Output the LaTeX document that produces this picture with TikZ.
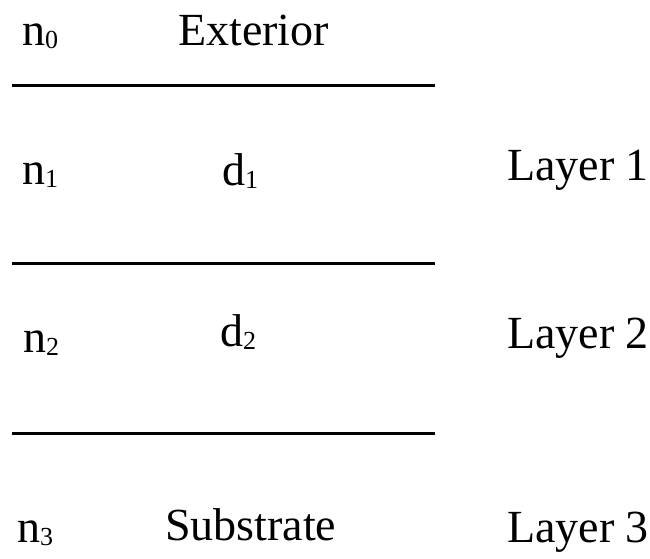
\documentclass[tikz,border=0pt]{standalone}
\usepackage{fontspec}
\setmainfont{Liberation Serif}
\usetikzlibrary{positioning}
\newcommand\lowsub[1]{\raisebox{-3pt}{\fontsize{26}{26}\selectfont #1}}

\begin{document}
\begin{tikzpicture}[x=1pt, y=-1pt,
  lbl/.style={anchor=base west, inner sep=0pt, font=\fontsize{46}{50}\selectfont},
  iface/.style={line width=3pt}]
\useasboundingbox (0,0) rectangle (650,558);
% refractive indices
\node[lbl] (n0) at (22,45) {n\lowsub{0}};
\node[lbl] (n1) at (22,184) {n\lowsub{1}};
\node[lbl] (n2) at (23,352) {n\lowsub{2}};
\node[lbl] (n3) at (17,542) {n\lowsub{3}};
% media and thicknesses
\node[lbl] (ext) at (178,45) {Exterior};
\node[lbl] (d1) at (222,185) {d\lowsub{1}};
\node[lbl] (d2) at (220,346) {d\lowsub{2}};
\node[lbl] (sub) at (165,540) {Substrate};
% layer names
\node[lbl] (L1) at (507,180) {Layer 1};
\node[lbl] (L2) at (507,348) {Layer 2};
\node[lbl] (L3) at (507,542) {Layer 3};
% interfaces
\foreach \y [count=\i] in {85,263,433}{
  \coordinate (a\i) at (12,\y);
  \coordinate (b\i) at (435,\y);
  \draw[iface] (a\i) -- (b\i);
}
\end{tikzpicture}
\end{document}
